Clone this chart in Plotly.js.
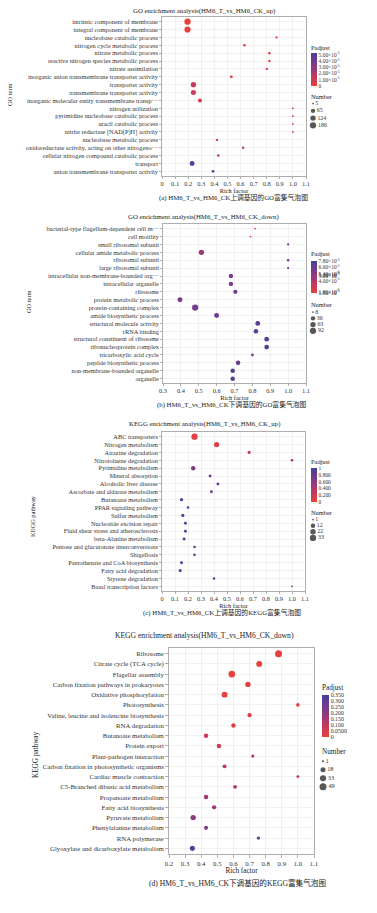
<!DOCTYPE html>
<html><head><meta charset="utf-8">
<script src="https://cdn.plot.ly/plotly-3.0.1.min.js"></script>
<style>html,body{margin:0;padding:0;background:#fff}</style>
</head><body><div id="chart" style="width:377px;height:913px"></div>
<script>
// ---------- (a) GO up ----------
const goUpTerms = ['intrinsic component of membrane','integral component of membrane','nucleobase catabolic process','nitrogen cycle metabolic process','nitrate metabolic process','reactive nitrogen species metabolic process','nitrate assimilation','inorganic anion transmembrane transporter activity','transporter activity','transmembrane transporter activity','inorganic molecular entity transmembrane transp\u00b7\u00b7\u00b7','nitrogen utilization','pyrimidine nucleobase catabolic process','uracil catabolic process','nitrite reductase [NAD(P)H] activity','nucleobase metabolic process','oxidoreductase activity, acting on other nitrogeno\u00b7\u00b7\u00b7','cellular nitrogen compound catabolic process','transport','anion transmembrane transporter activity'];
const goUpRich = [0.195,0.195,0.875,0.63,0.82,0.82,0.80,0.53,0.24,0.24,0.29,1.0,1.0,1.0,1.0,0.42,0.62,0.43,0.23,0.39];
const goUpNumber = [186,180,7,10,9,9,8,14,110,100,50,5,5,5,5,8,8,10,90,15];
const goUpPadj = [0.0e-5,0.02e-5,0.5e-5,0.3e-5,0.3e-5,0.3e-5,0.4e-5,0.6e-5,1.3e-5,1.2e-5,0.8e-5,1.6e-5,1.6e-5,1.6e-5,1.6e-5,1.5e-5,1.8e-5,2.0e-5,4.8e-5,4.2e-5];
const goUpSizeBreaks = [5,65,124,186];
const goUpPadjTicks = [0,1e-5,2e-5,3e-5,4e-5,5e-5];
const goUpPadjLabels = ['0','1.00\u00d710<sup>-5</sup>','2.00\u00d710<sup>-5</sup>','3.00\u00d710<sup>-5</sup>','4.00\u00d710<sup>-5</sup>','5.00\u00d710<sup>-5</sup>'];

// ---------- (b) GO down ----------
const goDownTerms = ['bacterial-type flagellum-dependent cell m\u00b7\u00b7\u00b7','cell motility','small ribosomal subunit','cellular amide metabolic process','ribosomal subunit','large ribosomal subunit','intracellular non-membrane-bounded org\u00b7\u00b7\u00b7','intracellular organelle','ribosome','protein metabolic process','protein-containing complex','amide biosynthetic process','structural molecule activity','rRNA binding','structural constituent of ribosome','ribonucleoprotein complex','tricarboxylic acid cycle','peptide biosynthetic process','non-membrane-bounded organelle','organelle'];
const goDownRich = [0.815,0.79,1.0,0.515,1.0,1.0,0.68,0.68,0.705,0.395,0.48,0.60,0.83,0.82,0.88,0.88,0.80,0.72,0.69,0.69];
const goDownNumber = [8,8,9,60,10,9,35,35,33,50,92,50,45,40,45,45,12,40,38,38];
const goDownPadj = [1.6e-5,1.7e-5,6.0e-5,4.6e-5,6.0e-5,6.0e-5,6.0e-5,6.0e-5,6.3e-5,5.9e-5,6.0e-5,6.2e-5,7.1e-5,7.0e-5,7.3e-5,7.3e-5,6.0e-5,6.6e-5,7.1e-5,7.1e-5];
const goDownSizeBreaks = [8,36,63,92];
const goDownPadjTicks = [1.6e-5,1.8e-5,4.0e-5,5.0e-5,5.2e-5,5.4e-5,6.6e-5,7.8e-5];
const goDownPadjLabels = ['1.60\u00d710<sup>-5</sup>','1.80\u00d710<sup>-5</sup>','4.00\u00d710<sup>-5</sup>','5.00\u00d710<sup>-5</sup>','5.20\u00d710<sup>-5</sup>','5.40\u00d710<sup>-5</sup>','6.60\u00d710<sup>-5</sup>','7.80\u00d710<sup>-5</sup>'];

// ---------- (c) KEGG up ----------
const keggUpTerms = ['ABC transporters','Nitrogen metabolism','Atrazine degradation','Nitrotoluene degradation','Pyrimidine metabolism','Mineral absorption','Alcoholic liver disease','Ascorbate and aldarate metabolism','Butanoate metabolism','PPAR signaling pathway','Sulfur metabolism','Nucleotide excision repair','Fluid shear stress and atherosclerosis','beta-Alanine metabolism','Pentose and glucuronate interconversions','Shigellosis','Pantothenate and CoA biosynthesis','Fatty acid degradation','Styrene degradation','Basal transcription factors'];
const keggUpRich = [0.25,0.42,0.67,1.0,0.24,0.37,0.43,0.38,0.15,0.20,0.16,0.18,0.18,0.17,0.25,0.25,0.15,0.14,0.40,1.0];
const keggUpNumber = [33,20,4,2,12,3,3,3,4,2,4,3,3,3,2,2,3,4,2,1];
const keggUpPadj = [0.02,0.10,0.20,0.45,0.65,0.75,0.75,0.75,0.90,0.85,0.90,0.90,0.90,0.90,0.80,0.80,0.90,0.90,0.80,0.90];
const keggUpSizeBreaks = [1,12,22,33];
const keggUpPadjTicks = [0,0.2,0.4,0.6,0.8,1];
const keggUpPadjLabels = ['0','0.200','0.400','0.600','0.800','1'];

// ---------- (d) KEGG down ----------
const keggDownTerms = ['Ribosome','Citrate cycle (TCA cycle)','Flagellar assembly','Carbon fixation pathways in prokaryotes','Oxidative phosphorylation','Photosynthesis','Valine, leucine and isoleucine biosynthesis','RNA degradation','Butanoate metabolism','Protein export','Plant-pathogen interaction','Carbon fixation in photosynthetic organisms','Cardiac muscle contraction','C5-Branched dibasic acid metabolism','Propanoate metabolism','Fatty acid biosynthesis','Pyruvate metabolism','Phenylalanine metabolism','RNA polymerase','Glyoxylate and dicarboxylate metabolism'];
const keggDownRich = [0.88,0.76,0.59,0.69,0.545,1.0,0.70,0.60,0.43,0.51,0.72,0.545,1.0,0.61,0.43,0.48,0.35,0.43,0.755,0.345];
const keggDownNumber = [49,30,40,22,30,5,10,12,12,12,3,7,2,7,12,10,22,8,4,18];
const keggDownPadj = [0.001,0.005,0.005,0.01,0.01,0.02,0.03,0.03,0.07,0.08,0.12,0.12,0.13,0.13,0.16,0.17,0.20,0.22,0.28,0.33];
const keggDownSizeBreaks = [1,18,33,49];
const keggDownPadjTicks = [0,0.05,0.1,0.15,0.2,0.25,0.3,0.35];
const keggDownPadjLabels = ['0','0.0500','0.100','0.150','0.200','0.250','0.300','0.350'];

const richTicksFrom0 = ['0','0.1','0.2','0.3','0.4','0.5','0.6','0.7','0.8','0.9','1.0','1.1'];
const richTicksFrom03 = ['0.3','0.4','0.5','0.6','0.7','0.8','0.9','1.0','1.1'];
const richTicksFrom02 = ['0.2','0.3','0.4','0.5','0.6','0.7','0.8','0.9','1.0','1.1'];

const titles = ['GO enrichment analysis(HM6_T_vs_HM6_CK_up)','GO enrichment analysis(HM6_T_vs_HM6_CK_down)','KEGG enrichment analysis(HM6_T_vs_HM6_CK_up)','KEGG enrichment analysis(HM6_T_vs_HM6_CK_down)'];
const captions = ['(a) HM6_T_vs_HM6_CK\u4e0a\u8c03\u57fa\u56e0\u7684GO\u5bcc\u96c6\u6c14\u6ce1\u56fe','(b) HM6_T_vs_HM6_CK\u4e0b\u8c03\u57fa\u56e0\u7684GO\u5bcc\u96c6\u6c14\u6ce1\u56fe','(c) HM6_T_vs_HM6_CK\u4e0a\u8c03\u57fa\u56e0\u7684KEGG\u5bcc\u96c6\u6c14\u6ce1\u56fe','(d) HM6_T_vs_HM6_CK\u4e0b\u8c03\u57fa\u56e0\u7684KEGG\u5bcc\u96c6\u6c14\u6ce1\u56fe'];
const yTitles = ['GO term','GO term','KEGG pathway','KEGG pathway'];

// ---------- layout helpers ----------
const W = 377, H = 913;
const fx = p => p / W, fy = p => 1 - p / H;
const SERIF = 'Liberation Serif, Times New Roman, serif';
const CJK = 'Liberation Serif, Noto Sans CJK SC, serif';
const colorscale = [[0,'#e8413c'],[0.25,'#c83a5c'],[0.5,'#9a387b'],[0.75,'#6e3c8f'],[1,'#46409a']];

function sizeScale(vals, breaks, dmin, dmax) {
  const lo = breaks[0], hi = breaks[breaks.length - 1];
  return vals.map(v => dmin + (dmax - dmin) * Math.sqrt(Math.max(0, (v - lo) / (hi - lo))));
}

const panels = [
  {terms: goUpTerms, rich: goUpRich, num: goUpNumber, padj: goUpPadj, br: goUpSizeBreaks, pt: goUpPadjTicks, pl: goUpPadjLabels,
   ticks: richTicksFrom0, xr: [0, 1.1], box: {l: 162, r: 306, t: 17.3, b: 175.7}, fs: 6.35, dmin: 1.8, dmax: 6.3,
   titleY: 10.5, titleX: 204, capY: 197, capX: 233, cb: {x: 311, y: 53, len: 33, th: 6, lim: [0, 5.3e-5]},
   pj: {x: 309, y: 47}, nm: {x: 309, y: 97}, lg: {x: 308, t: 100, b: 129}, tfs: 6.8, ticklen: 2, yt: {x: 10, y: 95}},
  {terms: goDownTerms, rich: goDownRich, num: goDownNumber, padj: goDownPadj, br: goDownSizeBreaks, pt: goDownPadjTicks, pl: goDownPadjLabels,
   ticks: richTicksFrom03, xr: [0.3, 1.1], box: {l: 163, r: 306, t: 224.3, b: 383}, fs: 6.35, dmin: 1.8, dmax: 6.3,
   titleY: 216.7, titleX: 203, capY: 404, capX: 232, cb: {x: 311, y: 261, len: 32, th: 6, lim: [1.55e-5, 7.9e-5]},
   pj: {x: 309, y: 254}, nm: {x: 309, y: 304}, lg: {x: 308, t: 309, b: 334}, tfs: 6.8, ticklen: 2, yt: {x: 28, y: 302}},
  {terms: keggUpTerms, rich: keggUpRich, num: keggUpNumber, padj: keggUpPadj, br: keggUpSizeBreaks, pt: keggUpPadjTicks, pl: keggUpPadjLabels,
   ticks: richTicksFrom0, xr: [0, 1.1], box: {l: 162, r: 305, t: 432.3, b: 590.7}, fs: 6.35, dmin: 1.8, dmax: 6.3,
   titleY: 424, titleX: 205, capY: 612, capX: 222, cb: {x: 311, y: 468, len: 34, th: 6, lim: [0, 1]},
   pj: {x: 309, y: 462}, nm: {x: 309, y: 512}, lg: {x: 308, t: 516.5, b: 541}, tfs: 6.8, ticklen: 2, yt: {x: 32, y: 516}},
  {terms: keggDownTerms, rich: keggDownRich, num: keggDownNumber, padj: keggDownPadj, br: keggDownSizeBreaks, pt: keggDownPadjTicks, pl: keggDownPadjLabels,
   ticks: richTicksFrom02, xr: [0.2, 1.1], box: {l: 169, r: 314, t: 648, b: 854}, fs: 6.8, dmin: 2.2, dmax: 7,
   titleY: 635, titleX: 205, capY: 883, capX: 237, cb: {x: 322, y: 695, len: 42, th: 7, lim: [0, 0.35]},
   pj: {x: 320, y: 688}, nm: {x: 320, y: 752}, lg: {x: 318, t: 757, b: 791}, tfs: 7.6, ticklen: 3, yt: {x: 36, y: 755}}
];

const data = [], annotations = [];
const layout = {
  width: W, height: H, autosize: false,
  margin: {l: 0, r: 0, t: 0, b: 0, pad: 0},
  paper_bgcolor: '#fff', plot_bgcolor: '#fff',
  showlegend: false, annotations: annotations,
  font: {family: SERIF, color: '#222'}
};

panels.forEach((p, i) => {
  const k = i + 1, sfx = k === 1 ? '' : String(k);
  const lk = i + 5;
  const n = p.terms.length;
  const ca = 'coloraxis' + sfx;
  data.push({
    type: 'scatter', mode: 'markers', x: p.rich, y: p.terms,
    xaxis: 'x' + sfx, yaxis: 'y' + sfx, hoverinfo: 'x+y',
    marker: {size: sizeScale(p.num, p.br, p.dmin, p.dmax), color: p.padj, coloraxis: ca, line: {width: 0}, opacity: 1}
  });
  layout['xaxis' + sfx] = {
    domain: [fx(p.box.l), fx(p.box.r)], anchor: 'y' + sfx, range: p.xr,
    tickmode: 'array', tickvals: p.ticks.map(Number), ticktext: p.ticks,
    showgrid: true, gridcolor: '#ececec', gridwidth: 0.7, zeroline: false,
    showline: true, mirror: true, linecolor: '#9a9a9a', linewidth: 0.8,
    ticks: 'outside', ticklen: p.ticklen, tickwidth: 0.6, tickcolor: '#777',
    tickfont: {family: SERIF, size: p.fs, color: '#333'},
    title: {text: 'Rich factor', standoff: 0, font: {family: SERIF, size: p.tfs - 0.4, color: '#222'}}
  };
  layout['yaxis' + sfx] = {
    domain: [fy(p.box.b), fy(p.box.t)], anchor: 'x' + sfx, type: 'category',
    categoryorder: 'array', categoryarray: p.terms, range: [n - 1 + 0.55, -0.55],
    tickmode: 'array', tickvals: p.terms, ticktext: p.terms,
    showgrid: true, gridcolor: '#ececec', gridwidth: 0.7, zeroline: false,
    showline: true, mirror: true, linecolor: '#9a9a9a', linewidth: 0.8,
    ticks: 'outside', ticklen: p.ticklen, tickwidth: 0.6, tickcolor: '#777',
    tickfont: {family: SERIF, size: p.fs, color: '#333'}
  };
  layout[ca] = {
    cmin: p.cb.lim[0], cmax: p.cb.lim[1], colorscale: colorscale,
    colorbar: {x: fx(p.cb.x), xanchor: 'left', y: fy(p.cb.y), yanchor: 'top',
      len: p.cb.len, lenmode: 'pixels', thickness: p.cb.th, thicknessmode: 'pixels',
      outlinewidth: 0, xpad: 0, ypad: 0, ticks: '', ticklabelpad: 1,
      tickmode: 'array', tickvals: p.pt, ticktext: p.pl,
      tickfont: {family: SERIF, size: p.fs - 0.9, color: '#333'}, title: {text: ''}}
  };
  // size legend drawn on its own tiny axis pair
  const lblLabels = p.br.map(String);
  data.push({
    type: 'scatter', mode: 'markers+text', x: p.br.map(() => 0), y: lblLabels,
    xaxis: 'x' + lk, yaxis: 'y' + lk, hoverinfo: 'skip', cliponaxis: false,
    text: lblLabels, textposition: 'middle right',
    textfont: {family: SERIF, size: p.fs - 0.4, color: '#333'},
    marker: {size: sizeScale(p.br, p.br, p.dmin, p.dmax), color: '#111', line: {width: 0}}
  });
  layout['xaxis' + lk] = {domain: [fx(p.lg.x), fx(p.lg.x + 10)], anchor: 'y' + lk, range: [-1, 1], visible: false, fixedrange: true};
  layout['yaxis' + lk] = {domain: [fy(p.lg.b), fy(p.lg.t)], anchor: 'x' + lk, type: 'category', categoryorder: 'array', categoryarray: lblLabels, range: [3.5, -0.5], visible: false, fixedrange: true};

  const ann = (text, x, y, size, xanchor, fam, angle) => annotations.push({text, x: fx(x), y: fy(y), xref: 'paper', yref: 'paper', xanchor: xanchor || 'center', yanchor: 'middle', textangle: angle || 0, showarrow: false, font: {family: fam || SERIF, size, color: '#222'}});
  ann(titles[i], p.titleX, p.titleY, p.tfs, 'center');
  ann(captions[i], p.capX, p.capY, p.tfs, 'center', CJK);
  ann('Padjust', p.pj.x, p.pj.y, p.tfs - 0.4, 'left');
  ann('Number', p.nm.x, p.nm.y, p.tfs - 0.4, 'left');
  ann(yTitles[i], p.yt.x, p.yt.y, p.tfs - 0.4, 'center', SERIF, -90);
});

Plotly.newPlot('chart', data, layout, {staticPlot: true, displayModeBar: false});
</script>
</body></html>
